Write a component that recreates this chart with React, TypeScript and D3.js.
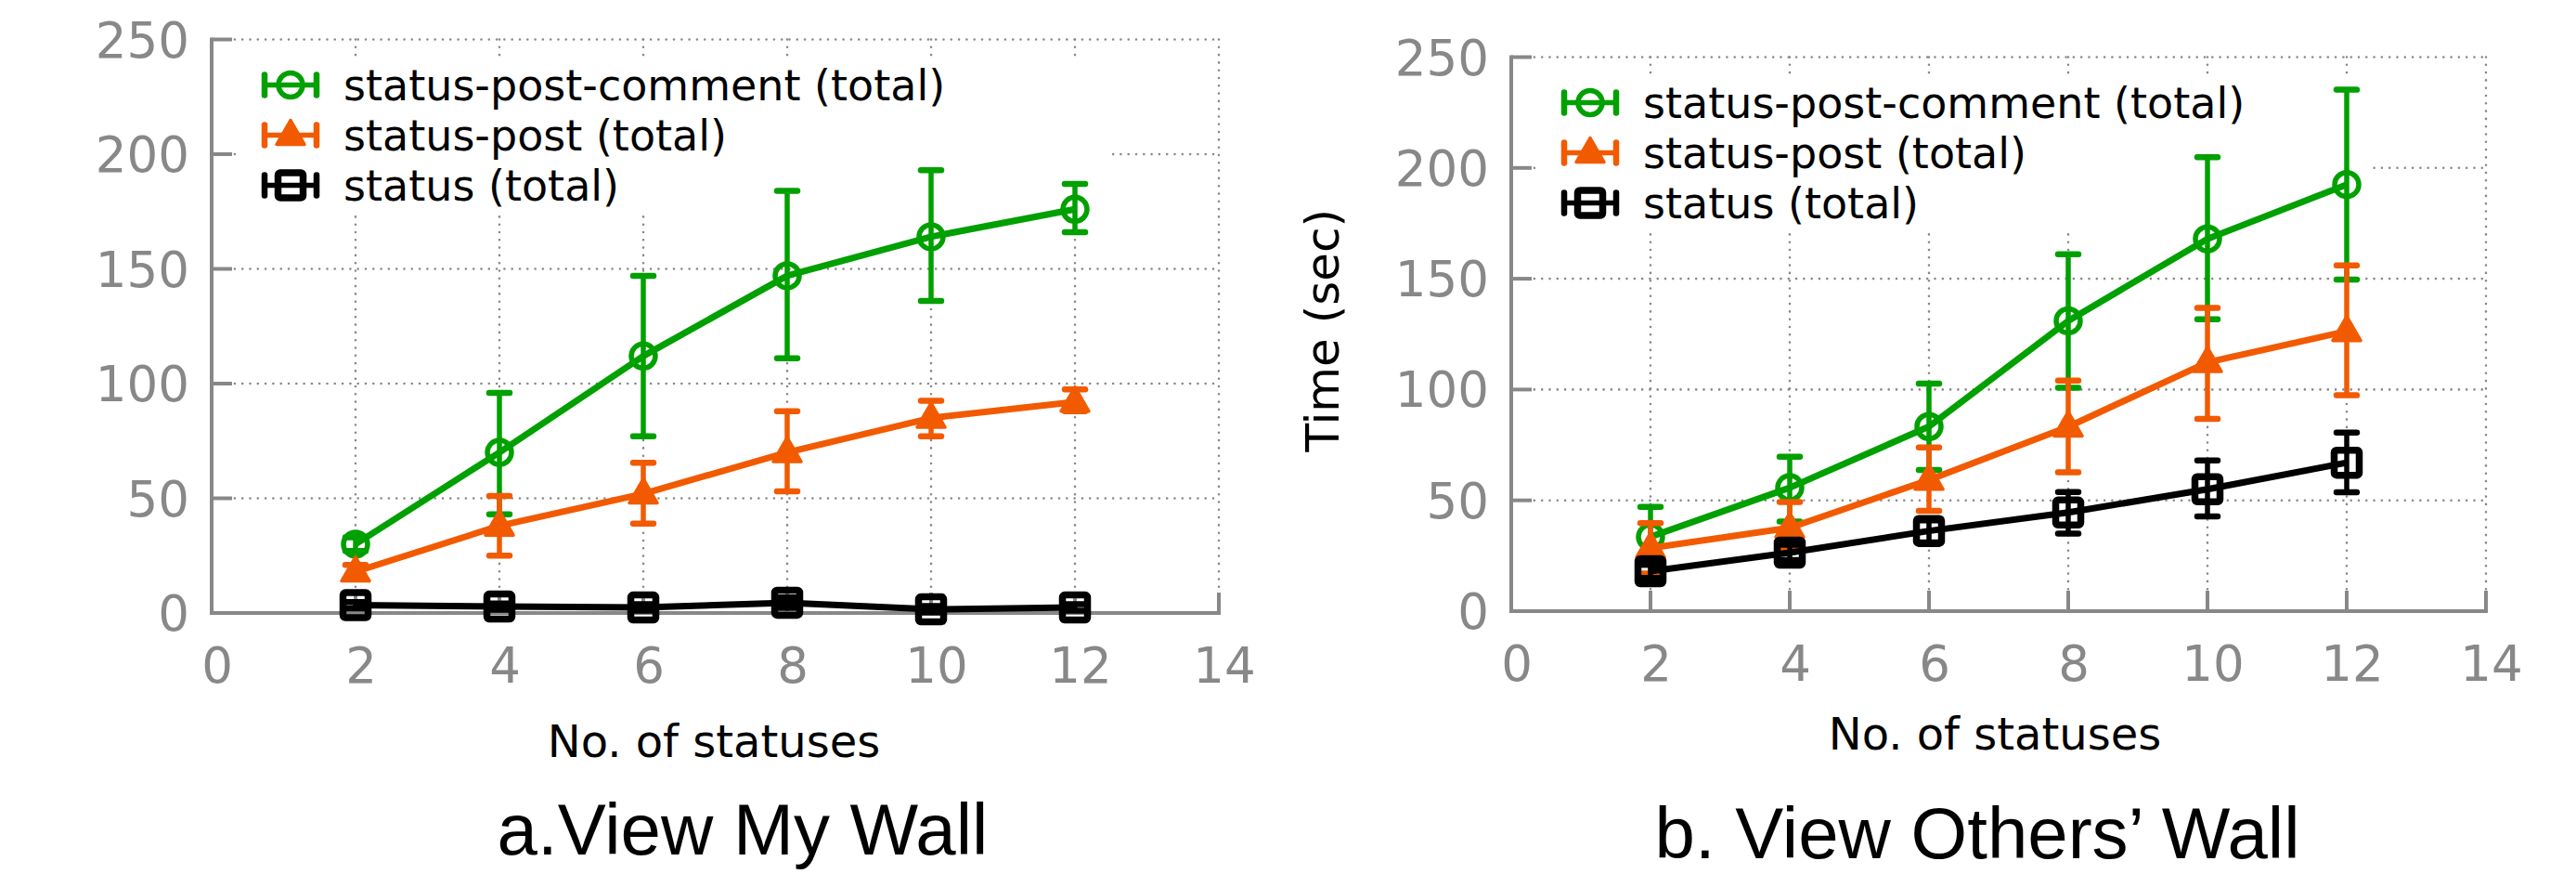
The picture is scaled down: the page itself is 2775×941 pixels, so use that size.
import React from 'react';
import * as d3 from 'd3';

const W = 2775;
const H = 941;

// x values and tick labels
const statuses = [2, 4, 6, 8, 10, 12];
const xTicks = [0, 2, 4, 6, 8, 10, 12, 14];
const yTicks = [0, 50, 100, 150, 200, 250];

const seriesNames = ['status-post-comment (total)', 'status-post (total)', 'status (total)'];
const seriesColors = ['#00a000', '#f25a00', '#000000'];
const seriesMarkers = ['circle', 'triangle', 'square'];

// a. View My Wall
const myCommentMean = [30, 70, 112, 147, 164, 176];
const myCommentLow = [27, 43, 77, 111, 136, 166];
const myCommentHigh = [33, 96, 147, 184, 193, 187];
const myPostMean = [18, 38, 52, 70, 85, 92];
const myPostLow = [15, 25, 39, 53, 77, 88];
const myPostHigh = [21, 51, 65.5, 88, 92.5, 97.5];
const myStatusMean = [3.4, 2.8, 2.4, 4.5, 1.6, 2.4];
const myStatusLow = [2, 1.4, 1, 2.2, 0.2, 1];
const myStatusHigh = [4.8, 4.2, 3.8, 6.8, 3, 3.8];

// b. View Others' Wall
const otherCommentMean = [33.5, 55.7, 83.3, 131, 168, 192.5];
const otherCommentLow = [21, 40.4, 63.7, 100.8, 131.7, 149.6];
const otherCommentHigh = [47, 69.7, 102.7, 161, 204.8, 235.3];
const otherPostMean = [28.5, 37.6, 59.2, 83.2, 112.3, 126.3];
const otherPostLow = [17, 28, 45.3, 62.7, 86.8, 97.4];
const otherPostHigh = [39.7, 49.2, 73.9, 104, 136.8, 156];
const otherStatusMean = [18, 26.4, 36.2, 44.5, 55, 67];
const otherStatusLow = [15, 23, 31, 35, 42.7, 53.6];
const otherStatusHigh = [21, 30, 41, 53.8, 68, 80.6];

const panels = [
  {
    id: 'a',
    title: 'a.View My Wall',
    yLabel: null,
    series: [
      [myCommentMean, myCommentLow, myCommentHigh],
      [myPostMean, myPostLow, myPostHigh],
      [myStatusMean, myStatusLow, myStatusHigh],
    ],
    layout: { left: 228, right: 1313, top: 42.5, bottom: 660, boxRight: 1192, xLabelX: 769, xLabelY: 815, titleX: 800, titleY: 920 },
  },
  {
    id: 'b',
    title: 'b. View Others\u2019 Wall',
    yLabel: 'Time (sec)',
    series: [
      [otherCommentMean, otherCommentLow, otherCommentHigh],
      [otherPostMean, otherPostLow, otherPostHigh],
      [otherStatusMean, otherStatusLow, otherStatusHigh],
    ],
    layout: { left: 1628, right: 2678, top: 61.5, bottom: 658, boxRight: 2554, xLabelX: 2149, xLabelY: 807, titleX: 2130, titleY: 924 },
  },
];

const AXIS = '#888888';
const SANS = "'DejaVu Sans', sans-serif";
const TITLE_FONT = "'Liberation Sans', Arial, sans-serif";

function Marker({ type, color, cx, cy }) {
  if (type === 'circle') {
    return <circle cx={cx} cy={cy} r={13} fill="none" stroke={color} strokeWidth={5.5} />;
  }
  if (type === 'triangle') {
    const p = `M${cx},${cy - 16}L${cx + 15},${cy + 10}L${cx - 15},${cy + 10}Z`;
    return <path d={p} fill={color} stroke={color} strokeWidth={3.5} strokeLinejoin="round" />;
  }
  return <rect x={cx - 13.5} y={cy - 13.5} width={27} height={27} rx={2.5} fill="none" stroke={color} strokeWidth={7.5} />;
}

function Panel({ title, yLabel, series, layout }) {
  const L = layout;
  const x = d3.scaleLinear().domain([0, 14]).range([L.left, L.right]);
  const y = d3.scaleLinear().domain([0, 250]).range([L.bottom, L.top]);
  const line = d3.line<number>().x((_, i) => x(statuses[i])).y(d => y(d));

  const rowY0 = L.top + 49;
  const rowGap = 54;
  const symX = L.left + 85;
  const textX = L.left + 142;

  return (
    <g>
      {/* dotted grid */}
      <g stroke={AXIS} strokeWidth={2.6} strokeLinecap="round" strokeDasharray="0 8.3">
        {xTicks.filter(t => t > 0).map(t => (
          <line key={'gx' + t} x1={x(t)} x2={x(t)} y1={L.top} y2={L.bottom} />
        ))}
        {yTicks.filter(t => t > 0).map(t => (
          <line key={'gy' + t} x1={L.left} x2={L.right} y1={y(t)} y2={y(t)} />
        ))}
      </g>

      {/* legend background */}
      <rect x={L.left + 28} y={rowY0 - 27} width={L.boxRight - L.left - 28} height={rowGap * 2 + 55} fill="#fff" />

      {/* axes */}
      <g stroke={AXIS} strokeWidth={4}>
        <line x1={L.left} x2={L.left} y1={L.top - 2} y2={L.bottom + 2} />
        <line x1={L.left - 2} x2={L.right + 2} y1={L.bottom} y2={L.bottom} />
        {yTicks.map(t => (
          <line key={'ty' + t} x1={L.left} x2={L.left + 22} y1={y(t)} y2={y(t)} />
        ))}
        {xTicks.map(t => (
          <line key={'tx' + t} x1={x(t)} x2={x(t)} y1={L.bottom} y2={L.bottom - 22} />
        ))}
      </g>
      <g fill={AXIS} fontFamily={SANS} fontSize={53}>
        {yTicks.map(t => (
          <text key={'ly' + t} x={L.left - 24} y={y(t) + 19} textAnchor="end">{t}</text>
        ))}
        {xTicks.map(t => (
          <text key={'lx' + t} x={x(t) + 6} y={L.bottom + 75} textAnchor="middle">{t}</text>
        ))}
      </g>

      {/* series */}
      {series.map(([mean, low, high], si) => {
        const c = seriesColors[si];
        return (
          <g key={'s' + si}>
            <path d={line(mean)} fill="none" stroke={c} strokeWidth={7} strokeLinejoin="round" />
            {statuses.map((s, i) => (
              <g key={i} stroke={c} strokeLinecap="round">
                <line x1={x(s)} x2={x(s)} y1={y(low[i])} y2={y(high[i])} strokeWidth={5.5} />
                <line x1={x(s) - 11} x2={x(s) + 11} y1={y(low[i])} y2={y(low[i])} strokeWidth={6.5} />
                <line x1={x(s) - 11} x2={x(s) + 11} y1={y(high[i])} y2={y(high[i])} strokeWidth={6.5} />
              </g>
            ))}
            {statuses.map((s, i) => (
              <Marker key={'m' + i} type={seriesMarkers[si]} color={c} cx={x(s)} cy={y(mean[i])} />
            ))}
          </g>
        );
      })}

      {/* legend */}
      {seriesNames.map((name, si) => {
        const cy = rowY0 + si * rowGap;
        const c = seriesColors[si];
        return (
          <g key={'lg' + si}>
            <g stroke={c} strokeLinecap="round">
              <line x1={symX - 28} x2={symX + 28} y1={cy} y2={cy} strokeWidth={5.5} />
              <line x1={symX - 28} x2={symX - 28} y1={cy - 11} y2={cy + 11} strokeWidth={6.5} />
              <line x1={symX + 28} x2={symX + 28} y1={cy - 11} y2={cy + 11} strokeWidth={6.5} />
            </g>
            <Marker type={seriesMarkers[si]} color={c} cx={symX} cy={cy} />
            <text x={textX} y={cy + 16} fontFamily={SANS} fontSize={46} fill="#000">{name}</text>
          </g>
        );
      })}

      <text x={L.xLabelX} y={L.xLabelY} textAnchor="middle" fontFamily={SANS} fontSize={48} fill="#000">No. of statuses</text>
      {yLabel && (
        <text transform={`translate(${L.left - 186},${(L.top + L.bottom) / 2 - 4}) rotate(-90)`} textAnchor="middle"
          fontFamily={SANS} fontSize={50} fill="#000">{yLabel}</text>
      )}
      <text x={L.titleX} y={L.titleY} textAnchor="middle" fontFamily={TITLE_FONT} fontSize={78} fill="#000">{title}</text>
    </g>
  );
}

export default function App() {
  return (
    <svg width={W} height={H} style={{ position: 'absolute', left: 0, top: 0, background: '#fff' }}>
      {panels.map(p => (
        <Panel key={p.id} title={p.title} yLabel={p.yLabel} series={p.series} layout={p.layout} />
      ))}
    </svg>
  );
}
